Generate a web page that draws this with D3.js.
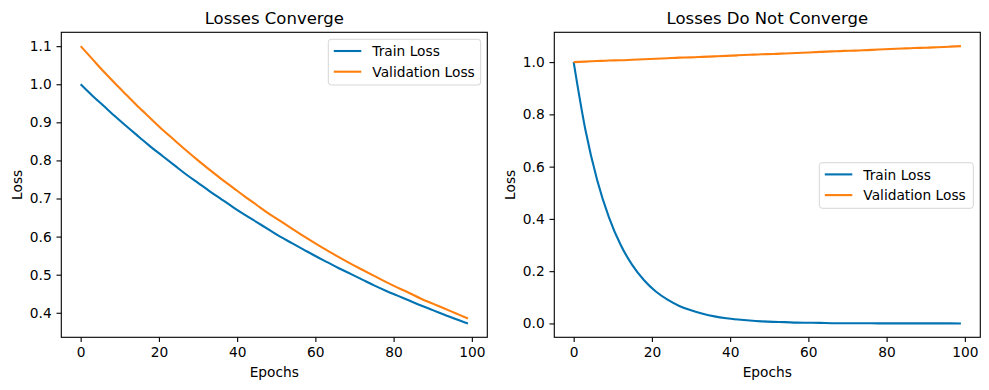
<!DOCTYPE html>
<html><head><meta charset="utf-8">
<script src="https://cdn.jsdelivr.net/npm/d3@7"></script>
<style>
body{margin:0;background:#fff;}
svg{display:block;font-family:"DejaVu Sans",sans-serif;}
</style></head>
<body><svg id="chart" width="989" height="390"></svg>
<script>
// ---- data ----
const epochs = [0,3,6,9,12,15,18,21,24,27,30,33,36,39,42,45,48,51,54,57,60,63,66,69,72,75,78,81,84,87,90,93,96,99];
const convTrain = [1.000,0.970,0.942,0.914,0.887,0.861,0.835,0.811,0.787,0.763,0.741,0.719,0.698,0.677,0.657,0.638,0.619,0.600,0.583,0.566,0.549,0.533,0.517,0.502,0.487,0.472,0.458,0.445,0.432,0.419,0.407,0.395,0.383,0.372];
const convVal = [1.100,1.066,1.032,1.000,0.969,0.938,0.909,0.880,0.853,0.826,0.800,0.775,0.751,0.728,0.705,0.683,0.661,0.641,0.621,0.601,0.582,0.564,0.546,0.529,0.513,0.497,0.481,0.466,0.452,0.437,0.424,0.411,0.398,0.385];
const divTrain = [1.000,0.741,0.549,0.407,0.301,0.223,0.165,0.122,0.091,0.067,0.050,0.037,0.027,0.020,0.015,0.011,0.008,0.006,0.005,0.003,0.0025,0.002,0.001,0.001,0.001,0.0005,0.0004,0.0003,0.0002,0.0002,0.0001,0.0001,0.0001,0.0000];
const divVal = [1.000,1.002,1.004,1.006,1.007,1.009,1.011,1.013,1.015,1.017,1.018,1.020,1.022,1.024,1.026,1.028,1.030,1.031,1.033,1.035,1.037,1.039,1.041,1.043,1.044,1.046,1.048,1.050,1.052,1.054,1.055,1.057,1.059,1.061];
const titles = ["Losses Converge", "Losses Do Not Converge"];
const seriesNames = ["Train Loss", "Validation Loss"];
const xTicks = [0,20,40,60,80,100];
const yTicksLeft = [0.4,0.5,0.6,0.7,0.8,0.9,1.0,1.1];
const yTicksRight = [0.0,0.2,0.4,0.6,0.8,1.0];
const colors = ["#0173b2", "#ff7f0e"];

// ---- layout ----
const svg = d3.select("#chart");
const panels = [
  {x0:61.3, x1:487.3, y0:32.3, y1:337.3, series:[convTrain, convVal], yTicks:yTicksLeft,
   ylabX:21.7, legend:{x:328.3, y:39.3, w:152.4, h:45.7}},
  {x0:554.3, x1:980.3, y0:32.3, y1:337.3, series:[divTrain, divVal], yTicks:yTicksRight,
   ylabX:514.5, legend:{x:819.3, y:162.7, w:154, h:45.6}}
];
const fs = 13.75;

panels.forEach((p, i) => {
  const xExt = d3.extent(epochs);
  const xm = (xExt[1]-xExt[0])*0.05;
  const x = d3.scaleLinear().domain([xExt[0]-xm, xExt[1]+xm]).range([p.x0, p.x1]);
  const all = p.series.flat();
  const yExt = d3.extent(all);
  const ym = (yExt[1]-yExt[0])*0.05;
  const y = d3.scaleLinear().domain([yExt[0]-ym, yExt[1]+ym]).range([p.y1, p.y0]);

  const g = svg.append("g");
  // lines
  const clipId = "clip"+i;
  svg.append("clipPath").attr("id", clipId).append("rect")
    .attr("x", p.x0).attr("y", p.y0).attr("width", p.x1-p.x0).attr("height", p.y1-p.y0);
  const line = d3.line().x((d,k)=>x(epochs[k])).y(d=>y(d)).curve(d3.curveMonotoneX);
  p.series.forEach((s, k) => {
    g.append("path").datum(s).attr("d", line).attr("fill","none")
      .attr("stroke", colors[k]).attr("stroke-width", 2.1)
      .attr("stroke-linecap","butt").attr("stroke-linejoin","round")
      .attr("clip-path", `url(#${clipId})`);
  });
  // axes
  const xAxis = d3.axisBottom(x).tickValues(xTicks).tickFormat(d3.format("d")).tickSize(4.8).tickPadding(4.8).tickSizeOuter(0);
  const yAxis = d3.axisLeft(y).tickValues(p.yTicks).tickFormat(d3.format(".1f")).tickSize(4.8).tickPadding(4.8).tickSizeOuter(0);
  const gx = g.append("g").attr("transform", `translate(0,${p.y1})`).call(xAxis);
  const gy = g.append("g").attr("transform", `translate(${p.x0},0)`).call(yAxis);
  [gx, gy].forEach(a => {
    a.select(".domain").remove();
    a.selectAll(".tick line").attr("stroke","#000").attr("stroke-width",1.1);
    a.selectAll(".tick text").attr("fill","#000").style("font-size", fs+"px").style("font-family","DejaVu Sans");
  });
  // spines
  g.append("rect").attr("x", p.x0).attr("y", p.y0).attr("width", p.x1-p.x0).attr("height", p.y1-p.y0)
    .attr("fill","none").attr("stroke","#000").attr("stroke-width",1.1);
  // title
  g.append("text").attr("x", (p.x0+p.x1)/2).attr("y", 24).attr("text-anchor","middle")
    .style("font-size","16.5px").attr("fill","#000").text(titles[i]);
  // xlabel
  g.append("text").attr("x", (p.x0+p.x1)/2).attr("y", 376.5).attr("text-anchor","middle")
    .style("font-size", fs+"px").attr("fill","#000").text("Epochs");
  // ylabel
  g.append("text").attr("transform", `translate(${p.ylabX},${(p.y0+p.y1)/2}) rotate(-90)`)
    .attr("text-anchor","middle").style("font-size", fs+"px").attr("fill","#000").text("Loss");
  // legend
  const L = p.legend;
  const lg = g.append("g");
  lg.append("rect").attr("x", L.x).attr("y", L.y).attr("width", L.w).attr("height", L.h)
    .attr("rx", 3).attr("fill","#fff").attr("fill-opacity",0.8).attr("stroke","#d6d6d6").attr("stroke-width",1);
  seriesNames.forEach((n, k) => {
    const ry = L.y + 11.7 + k*20.7;
    lg.append("line").attr("x1", L.x+5.5).attr("x2", L.x+33).attr("y1", ry).attr("y2", ry)
      .attr("stroke", colors[k]).attr("stroke-width", 2.1);
    lg.append("text").attr("x", L.x+44).attr("y", ry+5.2).style("font-size", fs+"px").attr("fill","#000").text(n);
  });
});
</script>
</body></html>
